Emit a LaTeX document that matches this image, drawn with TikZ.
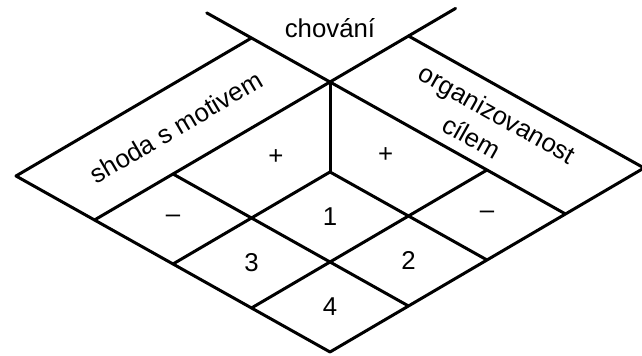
\documentclass[tikz,border=0pt]{standalone}
\usepackage{fontspec}
\setmainfont{Liberation Sans}

\begin{document}
\begin{tikzpicture}[x={(39.25pt,23pt)}, y={(-39.25pt,22pt)}, line cap=round, line join=round, every node/.style={font=\fontsize{12.9}{16.5}\selectfont, inner sep=1pt}, rule/.style={line width=1.5pt}]
    \path[use as bounding box] (-165pt,-2pt) rectangle (156pt,176pt);
    \coordinate (B) at (0,0);
    \coordinate (M) at (2,2);
    \coordinate (T) at (3,3);
    \coordinate (Cl) at (3,4.57);
    \coordinate (Cr) at (4.6,3);
    % grid lines along both directions
    \foreach \v/\e in {0/4,1/3,2/2,4/3} \draw[rule] (0,\v) -- (\e,\v);
    \foreach \u/\e in {0/4,1/3,2/2,4/3} \draw[rule] (\u,0) -- (\u,\e);
    \draw[rule] (0,3) -- (T) -- (Cr);
    \draw[rule] (3,0) -- (T) -- (Cl);
    \draw[rule] (M) -- (T);
    % headings
    \node (chov) at (3.6,3.6) {chování};
    \node[rotate=30.4] (motiv) at (1.54,3.5) {shoda s motivem};
    \node[rotate=-29.3, align=center] (cil) at (3.48,1.45) {organizovanost\\cílem\hspace*{11pt}};
    % signs
    \node (pl) at (1.83,2.52) {+};
    \node (pr) at (2.54,1.83) {+};
    \node (ml) at (0.5,2.5) {–};
    \node (mr) at (2.5,0.5) {–};
    % cells
    \node (c1) at (1.5,1.5) {1};
    \node (c2) at (1.5,0.5) {2};
    \node (c3) at (0.5,1.5) {3};
    \node (c4) at (0.5,0.5) {4};
\end{tikzpicture}
\end{document}
